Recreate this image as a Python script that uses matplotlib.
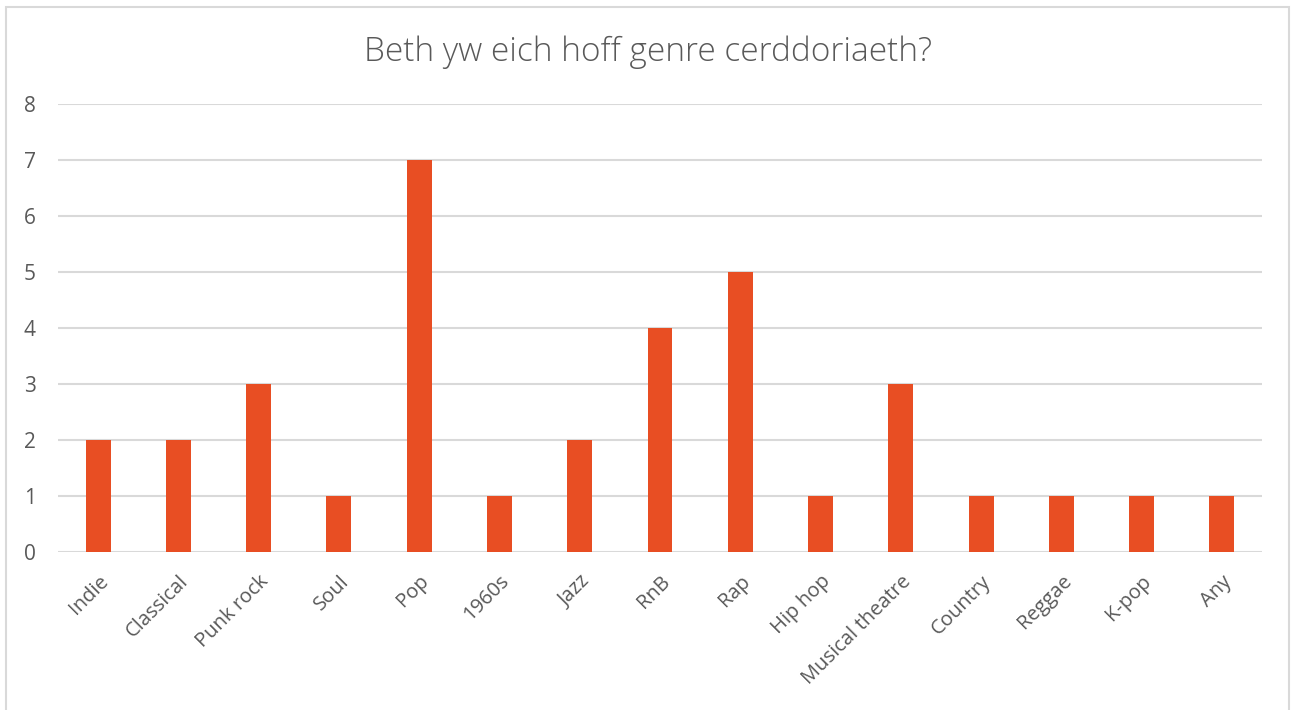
import matplotlib
matplotlib.use("Agg")
import matplotlib.pyplot as plt
from matplotlib.patches import Rectangle

# data
genres = ["Indie", "Classical", "Punk rock", "Soul", "Pop", "1960s", "Jazz", "RnB",
          "Rap", "Hip hop", "Musical theatre", "Country", "Reggae", "K-pop", "Any"]
counts = [2, 2, 3, 1, 7, 1, 2, 4, 5, 1, 3, 1, 1, 1, 1]
title = "Beth yw eich hoff genre cerddoriaeth?"

bar_color = "#E84E23"
text_color = "#595959"
grid_color = "#D9D9D9"

plt.rcParams['font.family'] = ['Open Sans', 'DejaVu Sans']

fig = plt.figure(figsize=(12.93, 7.10), dpi=100)

# chart frame (bottom runs off the picture)
frame = Rectangle((6/1293, -0.05), (1289-6)/1293, 1.05 - 7/710, transform=fig.transFigure,
                  fill=False, edgecolor=grid_color, linewidth=1.5)
fig.patches.append(frame)

ax = fig.add_axes([58/1293, 1 - 552/710, (1262-58)/1293, (552-104)/710])

x = range(len(genres))
ax.bar(x, counts, width=0.31, color=bar_color, zorder=3)

ax.set_xlim(-0.5, len(genres) - 0.5)
ax.set_ylim(0, 8)
ax.set_yticks(range(0, 9))
ax.yaxis.grid(True, color=grid_color, linewidth=1.5, zorder=0)
for s in ax.spines.values():
    s.set_visible(False)
ax.tick_params(length=0, colors=text_color)
ax.tick_params(axis='y', pad=16, labelsize=15)
ax.set_xticks(list(x))
ax.set_xticklabels(genres, rotation=45, ha='right', rotation_mode='anchor')
ax.tick_params(axis='x', pad=14, labelsize=14.5)

fig.text(648/1293, 1 - 52/710, title, ha='center', va='center', fontsize=24,
         color=text_color, fontweight='light')

fig.savefig("out.png", dpi=100)
